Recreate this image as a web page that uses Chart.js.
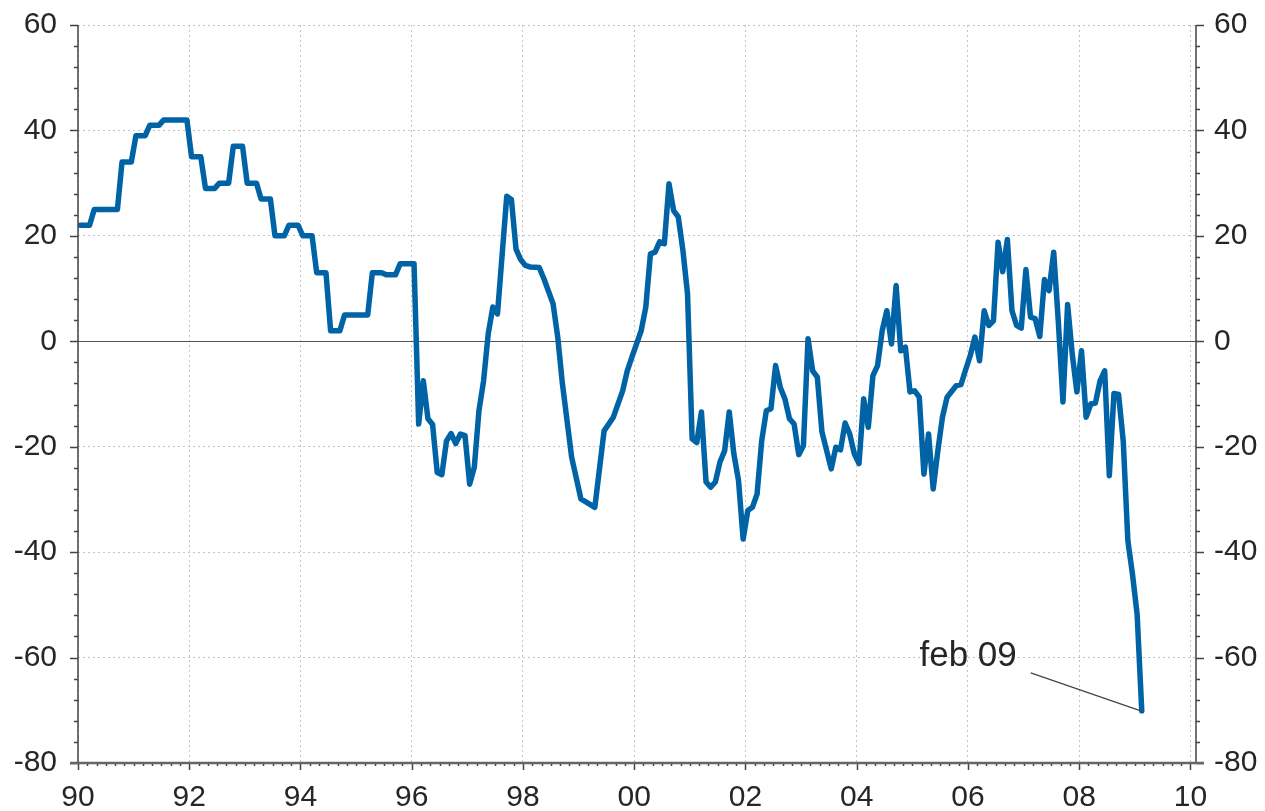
<!DOCTYPE html>
<html>
<head>
<meta charset="UTF-8">
<title>chart</title>
<script src="https://cdn.jsdelivr.net/npm/chart.js"></script>
<style>
  html, body { margin: 0; padding: 0; background: #fff; }
  #wrap { width: 1265px; height: 811px; }
</style>
</head>
<body>
<div id="wrap"><canvas id="c" width="1265" height="811"></canvas></div>
<script>
// monthly readings (turning points), quarterly values before 1996
const months = [
  '1990-01','1990-03','1990-04','1990-09','1990-10','1990-12',
  '1991-01','1991-03','1991-04','1991-06','1991-07','1991-12',
  '1992-01','1992-03','1992-04','1992-06','1992-07','1992-09','1992-10','1992-12',
  '1993-01','1993-03','1993-04','1993-06','1993-07','1993-09','1993-10','1993-12',
  '1994-01','1994-03','1994-04','1994-06','1994-07','1994-09','1994-10','1995-03',
  '1995-04','1995-06','1995-07','1995-09','1995-10','1996-01',
  '1996-02','1996-03','1996-04','1996-05','1996-06','1996-07','1996-08','1996-09','1996-10','1996-11','1996-12',
  '1997-01','1997-02','1997-03','1997-04','1997-05','1997-06','1997-07','1997-09','1997-10','1997-11','1997-12',
  '1998-01','1998-02','1998-04','1998-05','1998-07','1998-08','1998-09','1998-11',
  '1999-01','1999-04','1999-06','1999-08','1999-10','1999-11','1999-12',
  '2000-02','2000-03','2000-04','2000-05','2000-06','2000-07','2000-08','2000-09','2000-10','2000-11','2000-12',
  '2001-01','2001-02','2001-03','2001-04','2001-05','2001-06','2001-07','2001-08','2001-09','2001-10','2001-11','2001-12',
  '2002-01','2002-02','2002-03','2002-04','2002-05','2002-06','2002-07','2002-08','2002-09','2002-10','2002-11','2002-12',
  '2003-01','2003-02','2003-03','2003-04','2003-05','2003-06','2003-07','2003-08','2003-09','2003-10','2003-11','2003-12',
  '2004-01','2004-02','2004-03','2004-04','2004-05','2004-06','2004-07','2004-08','2004-09','2004-10','2004-11','2004-12',
  '2005-01','2005-02','2005-03','2005-04','2005-05','2005-06','2005-07','2005-08','2005-10','2005-11','2005-12',
  '2006-01','2006-02','2006-03','2006-04','2006-05','2006-06','2006-07','2006-08','2006-09','2006-10','2006-11','2006-12',
  '2007-01','2007-02','2007-03','2007-04','2007-05','2007-06','2007-07','2007-08','2007-09','2007-10','2007-11','2007-12',
  '2008-01','2008-02','2008-03','2008-04','2008-05','2008-06','2008-07','2008-08','2008-09','2008-10','2008-11','2008-12',
  '2009-01','2009-02'
];
const values = [
  22, 22, 25, 25, 34, 34,
  39, 39, 41, 41, 42, 42,
  35, 35, 29, 29, 30, 30, 37, 37,
  30, 30, 27, 27, 20, 20, 22, 22,
  20, 20, 13, 13, 2, 2, 5, 5,
  13, 13, 12.6, 12.6, 14.7, 14.7,
  -15.7, -7.5, -14.7, -15.8, -24.9, -25.3, -18.9, -17.5, -19.4, -17.6, -17.9,
  -27.1, -23.9, -13.2, -7.5, 1.4, 6.5, 5.2, 27.5, 26.9, 17.5, 15.5,
  14.4, 14.1, 14.0, 11.9, 7.1, 0.8, -8.0, -22.0,
  -29.9, -31.5, -17.0, -14.4, -9.4, -5.6, -3.0,
  2.0, 6.5, 16.6, 16.9, 18.9, 18.5, 29.9, 24.8, 23.6, 17.3, 9.0,
  -18.5, -19.2, -13.4, -26.7, -27.7, -26.7, -22.9, -20.8, -13.4, -21.4, -26.4, -37.5,
  -32.1, -31.5, -29.0, -18.9, -13.2, -12.8, -4.6, -8.7, -10.9, -14.7, -15.7, -21.5,
  -19.8, 0.5, -5.6, -6.8, -17.2, -20.7, -24.2, -20.1, -20.6, -15.5, -17.6, -21.4,
  -23.2, -10.9, -16.3, -6.5, -4.6, 2.0, 5.8, -0.5, 10.6, -1.8, -1.1, -9.6,
  -9.4, -10.6, -25.2, -17.6, -28.0, -20.8, -14.4, -10.6, -8.4, -8.2, -5.4,
  -2.7, 0.8, -3.7, 5.8, 3.0, 3.9, 18.8, 13.2, 19.3, 5.8, 3.0, 2.5,
  13.6, 4.6, 4.3, 0.9, 11.7, 9.6, 16.9, 3.7, -11.5, 7.0, -2.4, -9.6,
  -1.8, -14.4, -11.9, -11.7, -7.5, -5.6, -25.5, -9.9, -10.1, -18.9, -37.8, -44.2,
  -51.8, -70.1
];
const yTicks = [-80, -60, -40, -20, 0, 20, 40, 60];
const xTickYears = [1990, 1992, 1994, 1996, 1998, 2000, 2002, 2004, 2006, 2008, 2010];
const noteText = 'feb 09';

function monthPos(s) {
  const p = s.split('-').map(Number);
  return p[0] + (p[1] - 0.5) / 12;
}
const points = months.map((m, i) => ({ x: monthPos(m), y: values[i] }));

const FONT = '"Liberation Sans", Arial, sans-serif';
const TXT = '#262626';
const AX = '#444444';

const decor = {
  id: 'decor',
  beforeDatasetsDraw(chart) {
    const { ctx, chartArea: a, scales } = chart;
    const y = scales.y;
    ctx.save();
    // zero line
    ctx.strokeStyle = '#555';
    ctx.lineWidth = 1.2;
    ctx.beginPath();
    const y0 = Math.round(y.getPixelForValue(0)) + 0.5;
    ctx.moveTo(a.left, y0); ctx.lineTo(a.right, y0);
    ctx.stroke();
    ctx.restore();
  },
  afterDraw(chart) {
    const { ctx, chartArea: a, scales } = chart;
    const y = scales.y, x = scales.x;
    ctx.save();
    ctx.strokeStyle = AX;
    ctx.lineWidth = 1.5;
    ctx.beginPath();
    ctx.moveTo(a.left, a.top); ctx.lineTo(a.left, a.bottom);
    ctx.moveTo(a.right, a.top); ctx.lineTo(a.right, a.bottom);
    // y ticks every 4, major every 20
    for (let v = -80; v <= 60; v += 4) {
      const py = Math.round(y.getPixelForValue(v)) + 0.5;
      const len = v % 20 === 0 ? 8 : 4;
      ctx.moveTo(a.left - len, py); ctx.lineTo(a.left, py);
      ctx.moveTo(a.right, py); ctx.lineTo(a.right + len, py);
    }
    // x ticks every two months, major every two years
    for (let k = 0; k <= 120; k++) {
      const px = Math.round(x.getPixelForValue(1990 + k / 6)) + 0.5;
      const len = k % 12 === 0 ? 7 : 3;
      ctx.moveTo(px, a.bottom); ctx.lineTo(px, a.bottom + len);
    }
    ctx.stroke();
    ctx.strokeStyle = '#666';
    ctx.lineWidth = 2.5;
    ctx.beginPath();
    ctx.moveTo(a.left - 8, a.bottom); ctx.lineTo(a.right + 8, a.bottom);
    ctx.stroke();

    // note on the last reading
    const last = points[points.length - 1];
    const px = x.getPixelForValue(last.x), py = y.getPixelForValue(last.y);
    ctx.strokeStyle = '#444';
    ctx.lineWidth = 1.2;
    ctx.beginPath();
    ctx.moveTo(px - 111, py - 38); ctx.lineTo(px - 1, py);
    ctx.stroke();
    ctx.fillStyle = TXT;
    ctx.font = '35px ' + FONT;
    ctx.textAlign = 'right';
    ctx.textBaseline = 'alphabetic';
    ctx.fillText(noteText, px - 125, py - 45);
    ctx.restore();
  }
};

function fitY(width) {
  return s => { s.width = width; s.paddingTop = 0; s.paddingBottom = 0; };
}

new Chart(document.getElementById('c'), {
  type: 'line',
  data: {
    datasets: [{
      data: points,
      borderColor: '#0063a6',
      borderWidth: 5.5,
      pointRadius: 0,
      tension: 0,
      borderJoinStyle: 'round',
      borderCapStyle: 'round',
      fill: false,
      yAxisID: 'y'
    }]
  },
  options: {
    responsive: false,
    animation: false,
    parsing: false,
    layout: { padding: { top: 25, left: 0, right: 0, bottom: 0 } },
    plugins: { legend: { display: false }, tooltip: { enabled: false } },
    scales: {
      x: {
        type: 'linear',
        min: 1990,
        max: 2010.1,
        afterFit(s) { s.height = 48; s.paddingLeft = 0; s.paddingRight = 0; },
        afterBuildTicks(s) { s.ticks = xTickYears.map(v => ({ value: v })); },
        ticks: {
          autoSkip: false,
          maxRotation: 0,
          padding: 17,
          color: TXT,
          font: { size: 30, family: FONT },
          callback: v => String(v % 100).padStart(2, '0')
        },
        grid: { color: '#c4c4c4', lineWidth: 1, drawTicks: false },
        border: { display: false, dash: [2, 3] }
      },
      y: {
        position: 'left',
        min: -80,
        max: 60,
        afterFit: fitY(78),
        afterBuildTicks(s) { s.ticks = yTicks.map(v => ({ value: v })); },
        ticks: {
          padding: 21,
          color: TXT,
          font: { size: 30, family: FONT }
        },
        grid: { color: '#c4c4c4', lineWidth: 1, drawTicks: false },
        border: { display: false, dash: [2, 3] }
      },
      y2: {
        position: 'right',
        min: -80,
        max: 60,
        afterFit: fitY(69),
        afterBuildTicks(s) { s.ticks = yTicks.map(v => ({ value: v })); },
        ticks: {
          padding: 18,
          color: TXT,
          font: { size: 30, family: FONT }
        },
        grid: { drawOnChartArea: false, drawTicks: false },
        border: { display: false }
      }
    }
  },
  plugins: [decor]
});
</script>
</body>
</html>
